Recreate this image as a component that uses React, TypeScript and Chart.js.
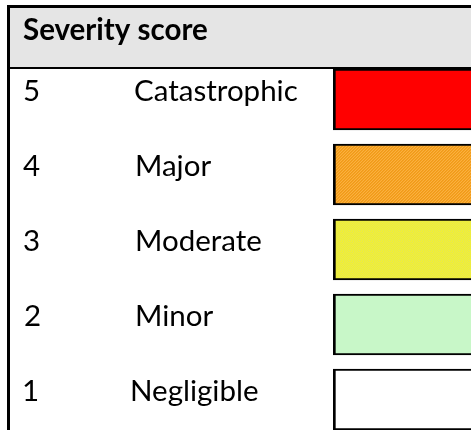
import React, { useEffect, useRef } from "react";
import { Chart, registerables } from "chart.js";

Chart.register(...registerables);

// ---- data ----
const headerTitle = "Severity score";
const scores = [5, 4, 3, 2, 1];
const levels = ["Catastrophic", "Major", "Moderate", "Minor", "Negligible"];
const swatchColors = ["#ff0000", "#f5a223", "#ecec3c", "#c8f7c8", "#ffffff"];

// ---- layout (styles only) ----
const W = 471;
const H = 470;
const FONT = "Lato, 'Noto Sans', sans-serif";
const FS = 29.5;
const labelX = [134, 135, 135, 135, 130];
const numberX = [23, 23, 23, 24, 22];

function makePattern(kind: string, base: string): CanvasPattern | string {
  const c = document.createElement("canvas");
  c.width = 6;
  c.height = 6;
  const g = c.getContext("2d");
  if (!g) return base;
  g.fillStyle = base;
  g.fillRect(0, 0, 6, 6);
  for (let y = 0; y < 6; y++) {
    for (let x = 0; x < 6; x++) {
      if (kind === "diag" && (x + y) % 3 === 0) {
        g.fillStyle = "#fbb040";
        g.fillRect(x, y, 1, 1);
      } else if (kind === "diag" && (x + y) % 3 === 1) {
        g.fillStyle = "#f09a18";
        g.fillRect(x, y, 1, 1);
      } else if (kind === "check" && (x + y) % 2 === 0) {
        g.fillStyle = "#e2e25a";
        g.fillRect(x, y, 1, 1);
      } else if (kind === "check") {
        g.fillStyle = "#f6f626";
        g.fillRect(x, y, 1, 1);
      }
    }
  }
  const p = g.createPattern(c, "repeat");
  return p || base;
}

const tablePlugin = {
  id: "tableDecor",
  beforeDraw(chart: any) {
    const ctx = chart.ctx;
    ctx.save();
    ctx.fillStyle = "#ffffff";
    ctx.fillRect(0, 0, W, H);
    // header band
    ctx.fillStyle = "#e5e5e5";
    ctx.fillRect(10, 8, W - 10, 59);
    ctx.fillStyle = "#000000";
    ctx.fillRect(7, 5, W - 7, 3); // top border
    ctx.fillRect(7, 5, 3, H); // left border
    ctx.fillRect(10, 67, W - 10, 2); // header bottom border
    ctx.fillStyle = "#000000";
    ctx.textBaseline = "alphabetic";
    ctx.textAlign = "left";
    ctx.font = `bold ${FS}px ${FONT}`;
    ctx.fillText(headerTitle, 23, 40);
    ctx.font = `${FS}px ${FONT}`;
    const ys = chart.scales.y;
    scores.forEach((s, i) => {
      const py = ys.getPixelForValue(s) + 1;
      ctx.fillText(String(s), numberX[i], py);
      ctx.fillText(levels[i], labelX[i], py);
    });
    ctx.restore();
  },
};

export default function App() {
  const ref = useRef<HTMLCanvasElement | null>(null);
  useEffect(() => {
    document.documentElement.style.overflow = "hidden";
    document.body.style.margin = "0";
    document.body.style.overflow = "hidden";
    const canvas = ref.current;
    if (!canvas) return;
    const fills = swatchColors.map((c, i) =>
      i === 1 ? makePattern("diag", c) : i === 2 ? makePattern("check", c) : c
    );
    const chart = new Chart(canvas, {
      type: "bar",
      data: {
        labels: scores.map(String),
        datasets: [
          {
            data: scores.map((s) => ({ y: s, x: [0, 1] })) as any,
            backgroundColor: fills as any,
            borderColor: "#000000",
            borderWidth: { left: 3, top: 2, bottom: 2, right: 0 } as any,
            borderSkipped: false,
            barThickness: 61,
          },
        ],
      },
      options: {
        indexAxis: "y",
        animation: false,
        responsive: false,
        devicePixelRatio: 1,
        events: [],
        layout: { padding: { left: 333, top: 69, right: 0, bottom: 0 } },
        plugins: {
          legend: { display: false },
          tooltip: { enabled: false },
          title: { display: false },
        },
        scales: {
          x: { type: "linear", min: 0, max: 1, display: false },
          y: {
            type: "linear",
            offset: false,
            bounds: "data",
            min: 5 - (H - 99.5) / 75,
            max: 5 + 30.5 / 75,
            display: false,
          },
        },
      },
      plugins: [tablePlugin],
    });
    return () => chart.destroy();
  }, []);
  return (
    <div style={{ width: W, height: 430, overflow: "hidden" }}>
      <canvas ref={ref} width={W} height={H} style={{ display: "block" }} />
    </div>
  );
}
